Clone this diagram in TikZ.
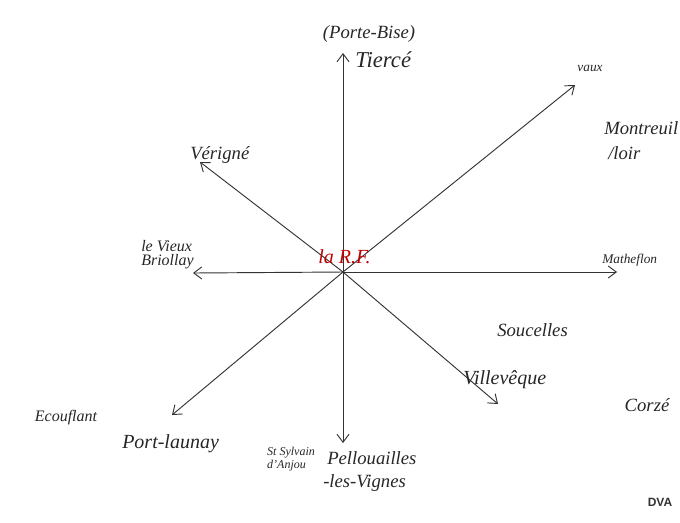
\documentclass[tikz,border=0pt]{standalone}
\usepackage{fontspec}
\setmainfont{Liberation Serif}
\setsansfont{Liberation Sans}
\usetikzlibrary{arrows.meta}
\newcommand{\fs}[1]{\fontsize{#1}{#1}\selectfont\itshape}
\begin{document}
\begin{tikzpicture}[x=0.75pt,y=-0.75pt,
  axis/.style={draw=black!80,line width=0.7pt,-{Straight Barb[length=6pt,width=9pt]}},
  place/.style={font=\fs{14},text=black!85,inner sep=0pt,align=left}]
\useasboundingbox (0,0) rectangle (680,522);
\coordinate (c) at (343,272);
\coordinate (n) at (343,53);
\coordinate (s) at (343,443);
\coordinate (e) at (617,272);
\coordinate (w) at (193,273);
\coordinate (ne) at (575,85);
\coordinate (nw) at (200,162);
\coordinate (se) at (498,404);
\coordinate (sw) at (172,415);
\foreach \t in {n,s,e,w,ne,nw,se,sw} \draw[axis] (c) -- (\t);
\node[place] (porte) at (369,34) {(Porte-Bise)};
\node[place,anchor=west,font=\fs{17}] (tierce) at (355,60) {Tiercé};
\node[place,font=\fs{10}] (vaux) at (590,68) {vaux};
\node[place,anchor=west] (montreuil) at (604,128) {Montreuil};
\node[place,anchor=west] (loir) at (608,153) {/loir};
\node[place,anchor=west] (verigne) at (190,155) {Vérigné};
\node[place,anchor=west,font=\fontsize{12}{10.5}\selectfont\itshape] (briollay) at (141,255) {le Vieux\\Briollay};
\node[place,text=red!75!black,anchor=west,font=\fs{15}] (rf) at (318,257) {la R.F.};
\node[place,anchor=west,font=\fs{10}] (matheflon) at (602,260) {Matheflon};
\node[place,anchor=west] (soucelles) at (497,330) {Soucelles};
\node[place,anchor=west,font=\fs{15}] (villeveque) at (463,380) {Villevêque};
\node[place] (corze) at (647,405) {Corzé};
\node[place,font=\fs{12}] (ecouflant) at (66,418) {Ecouflant};
\node[place,anchor=west,font=\fs{15}] (launay) at (122,444) {Port-launay};
\node[place,font=\fontsize{9}{8}\selectfont\itshape] (sylvain) at (291,459) {St Sylvain\\d'Anjou};
\node[place,anchor=west] (pellouailles) at (327,458) {Pellouailles};
\node[place,anchor=west] (vignes) at (323,483) {-les-Vignes};
\node[font=\sffamily\fontsize{9}{9}\selectfont\bfseries,text=black!80] (dva) at (660,502) {DVA};
\end{tikzpicture}
\end{document}
